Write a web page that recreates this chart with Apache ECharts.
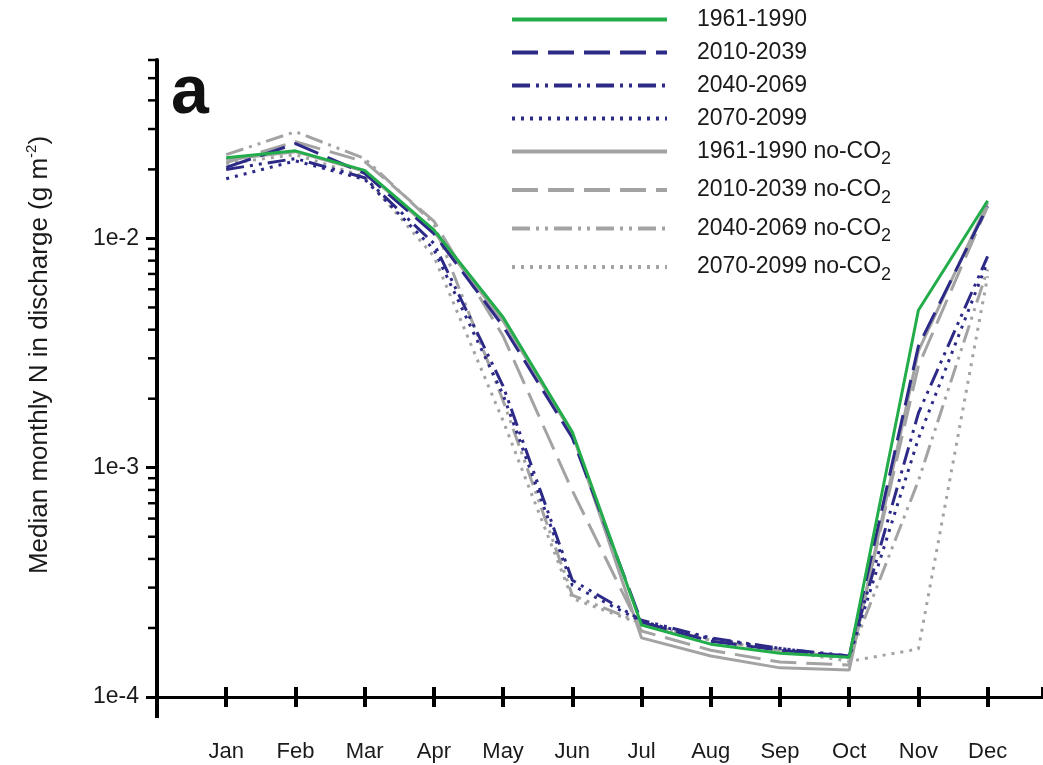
<!DOCTYPE html>
<html>
<head>
<meta charset="utf-8">
<script src="https://cdn.jsdelivr.net/npm/echarts@6/dist/echarts.min.js"></script>
<style>
  html, body { margin: 0; padding: 0; background: #fff; }
  #chart { width: 1043px; height: 765px; }
</style>
</head>
<body>
<div id="chart"></div>
<script>
// data
const months = ['Jan', 'Feb', 'Mar', 'Apr', 'May', 'Jun', 'Jul', 'Aug', 'Sep', 'Oct', 'Nov', 'Dec'];

const base1961 = [2.25e-2, 2.41e-2, 1.98e-2, 1.09e-2, 4.53e-3, 1.43e-3, 2.06e-4, 1.70e-4, 1.55e-4, 1.49e-4, 4.86e-3, 1.46e-2];
const fut2010 = [2.04e-2, 2.59e-2, 1.92e-2, 1.05e-2, 4.14e-3, 1.35e-3, 2.12e-4, 1.75e-4, 1.60e-4, 1.51e-4, 3.39e-3, 1.38e-2];
const fut2040 = [2.00e-2, 2.23e-2, 1.84e-2, 9.51e-3, 2.27e-3, 3.23e-4, 2.16e-4, 1.81e-4, 1.63e-4, 1.51e-4, 1.73e-3, 8.35e-3];
const fut2070 = [1.82e-2, 2.18e-2, 1.81e-2, 8.96e-3, 2.08e-3, 3.07e-4, 2.14e-4, 1.79e-4, 1.63e-4, 1.49e-4, 1.34e-3, 7.94e-3];
const noco1961 = [2.21e-2, 2.39e-2, 1.96e-2, 1.07e-2, 4.36e-3, 1.41e-3, 1.81e-4, 1.51e-4, 1.34e-4, 1.31e-4, 3.23e-3, 1.43e-2];
const noco2010 = [2.14e-2, 2.64e-2, 2.16e-2, 1.19e-2, 3.75e-3, 7.94e-4, 1.94e-4, 1.60e-4, 1.42e-4, 1.38e-4, 2.78e-3, 1.38e-2];
const noco2040 = [2.32e-2, 2.92e-2, 2.23e-2, 1.16e-2, 1.96e-3, 2.78e-4, 2.10e-4, 1.77e-4, 1.60e-4, 1.48e-4, 8.78e-4, 7.33e-3];
const noco2070 = [2.12e-2, 2.32e-2, 1.86e-2, 8.35e-3, 1.60e-3, 2.69e-4, 2.08e-4, 1.77e-4, 1.60e-4, 1.43e-4, 1.62e-4, 6.84e-3];

const yLabelDecades = [1e-4, 1e-3, 1e-2];
const minorSteps = [2, 3, 4, 5, 6, 7, 8, 9];
const yMax = 0.06;

const navy = '#2d2a87';
const grey = '#a3a3a3';
const green = '#22ad4a';
const font = '"Liberation Sans", Arial, sans-serif';

// minor log ticks on y axis
const minorTicks = [];
yLabelDecades.forEach(d => {
  minorSteps.forEach(k => {
    if (d * k <= yMax) minorTicks.push([0, d * k]);
  });
});

function pts(arr) {
  return arr.map((v, i) => [i + 1, v]);
}

function line(name, arr, color, type, z) {
  return {
    name: name,
    type: 'line',
    data: pts(arr),
    symbol: 'none',
    z: z || 2,
    lineStyle: { color: color, width: 3, type: type },
    itemStyle: { color: color }
  };
}

const chart = echarts.init(document.getElementById('chart'));

const option = {
  backgroundColor: '#fff',
  animation: false,
  textStyle: { fontFamily: font },
  grid: { left: 157, right: 0, top: 60, bottom: 68 },
  legend: {
    orient: 'vertical',
    left: 505,
    top: 3,
    itemWidth: 155,
    itemHeight: 10,
    itemGap: 10,
    itemStyle: { opacity: 0 },
    lineStyle: { width: 4 },
    data: ['1961-1990', '2010-2039', '2040-2069', '2070-2099',
      '1961-1990 no-CO2', '2010-2039 no-CO2', '2040-2069 no-CO2', '2070-2099 no-CO2'],
    formatter: function (name) {
      if (name.slice(-1) === '2' && name.indexOf('no-CO') > 0) {
        return '{t|' + name.slice(0, -1) + '}{s|2}';
      }
      return '{t|' + name + '}';
    },
    textStyle: {
      fontFamily: font,
      color: '#1a1a1a',
      padding: [0, 0, 0, 25],
      rich: {
        t: { fontSize: 23, fontFamily: font, color: '#1a1a1a', lineHeight: 22 },
        s: { fontSize: 18, fontFamily: font, color: '#1a1a1a', verticalAlign: 'bottom', lineHeight: 34 }
      }
    }
  },
  xAxis: [
    {
      type: 'value',
      min: 0,
      max: 12.8,
      interval: 1,
      position: 'bottom',
      splitLine: { show: false },
      axisLine: { lineStyle: { color: '#000', width: 3 } },
      axisTick: { length: 10, lineStyle: { color: '#000', width: 4 } },
      axisLabel: {
        margin: 44,
        fontSize: 22,
        color: '#1a1a1a',
        fontFamily: font,
        showMaxLabel: false,
        formatter: v => months[v - 1] || ''
      }
    },
    {
      type: 'value',
      min: 0,
      max: 12.8,
      interval: 1,
      position: 'bottom',
      splitLine: { show: false },
      axisLine: { show: false },
      axisTick: { inside: true, length: 10, lineStyle: { color: '#000', width: 4 } },
      axisLabel: { show: false }
    }
  ],
  yAxis: {
    type: 'log',
    logBase: 10,
    min: 1e-4,
    max: yMax,
    splitLine: { show: false },
    axisLine: { show: true, lineStyle: { color: '#000', width: 4 } },
    axisTick: { length: 11, lineStyle: { color: '#000', width: 3 } },
    axisLabel: {
      margin: 18,
      fontSize: 23,
      color: '#1a1a1a',
      fontFamily: font,
      showMaxLabel: false,
      formatter: function (v) {
        const e = Math.log10(v);
        if (Math.abs(e - Math.round(e)) > 1e-6) return '';
        return '1e' + Math.round(e);
      }
    }
  },
  graphic: [
    {
      type: 'text',
      left: 171,
      top: 60,
      style: { text: 'a', font: 'bold 68px ' + font, fill: '#111' }
    },
    {
      type: 'text',
      x: 40,
      y: 355,
      rotation: Math.PI / 2,
      style: {
        text: '{t|Median monthly N in discharge (g m}{s|-2}{t|)}',
        align: 'center',
        verticalAlign: 'middle',
        rich: {
          t: { fontSize: 26, fontFamily: font, fill: '#1a1a1a', lineHeight: 32 },
          s: { fontSize: 15, fontFamily: font, fill: '#1a1a1a', verticalAlign: 'top', lineHeight: 32 }
        }
      }
    },
    {
      type: 'line',
      shape: { x1: 157, y1: 697, x2: 157, y2: 718 },
      style: { stroke: '#000', lineWidth: 4 }
    }
  ],
  series: [
    line('2070-2099 no-CO2', noco2070, grey, [3, 6]),
    line('2040-2069 no-CO2', noco2040, grey, [18, 6, 3, 6, 3, 6]),
    line('2010-2039 no-CO2', noco2010, grey, [26, 10]),
    line('1961-1990 no-CO2', noco1961, grey, 'solid'),
    line('2070-2099', fut2070, navy, [3, 6]),
    line('2040-2069', fut2040, navy, [18, 6, 3, 6, 3, 6]),
    line('2010-2039', fut2010, navy, [26, 10]),
    line('1961-1990', base1961, green, 'solid', 3),
    {
      name: 'minorTicks',
      type: 'custom',
      silent: true,
      clip: false,
      data: minorTicks,
      renderItem: function (params, api) {
        const p = api.coord([api.value(0), api.value(1)]);
        return {
          type: 'line',
          shape: { x1: p[0] - 9, y1: p[1], x2: p[0], y2: p[1] },
          style: { stroke: '#000', lineWidth: 2.5 }
        };
      }
    }
  ]
};

chart.setOption(option);
</script>
</body>
</html>
